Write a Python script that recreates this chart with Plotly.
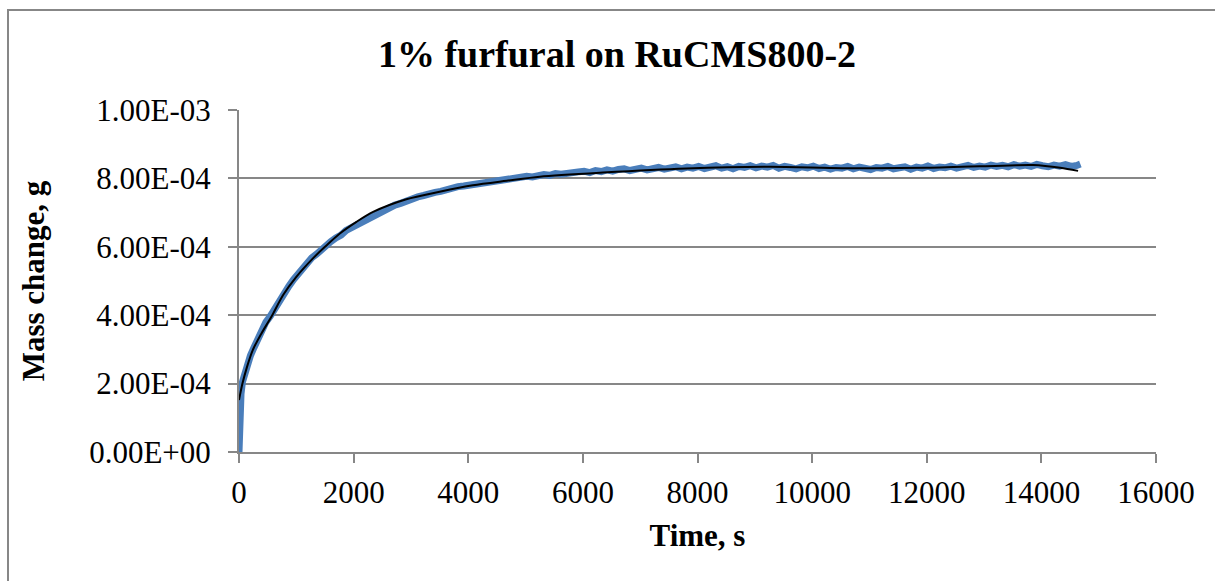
import plotly.graph_objects as go

# Measured mass uptake (time in s, mass change in units of 1e-4 g)
time_s = [0, 5, 10, 20, 35, 60, 100, 150, 200, 260, 330, 400, 470, 550, 630, 710, 790,
          870, 950, 1030, 1110, 1190, 1270, 1350, 1430, 1510, 1600, 1690, 1780, 1870,
          1960, 2050, 2140, 2230, 2320, 2420, 2520, 2620, 2720, 2820, 2920, 3020, 3120,
          3220, 3320, 3420, 3520, 3620, 3720, 3820, 3920, 4020, 4120, 4220, 4320, 4420,
          4520, 4620, 4720, 4820, 4920, 5020, 5120, 5220, 5320, 5420, 5520, 5620, 5720,
          5820, 5920, 6020, 6120, 6220, 6320, 6420, 6520, 6620, 6720, 6820, 6920, 7020,
          7120, 7220, 7320, 7420, 7520, 7620, 7720, 7820, 7920, 8020, 8120, 8220, 8320,
          8420, 8520, 8620, 8720, 8820, 8920, 9020, 9120, 9220, 9320, 9420, 9520, 9620,
          9720, 9820, 9920, 10020, 10120, 10220, 10320, 10420, 10520, 10620, 10720,
          10820, 10920, 11020, 11120, 11220, 11320, 11420, 11520, 11620, 11720, 11820,
          11920, 12020, 12120, 12220, 12320, 12420, 12520, 12620, 12720, 12820, 12920,
          13020, 13120, 13220, 13320, 13420, 13520, 13620, 13720, 13820, 13920, 14020,
          14120, 14220, 14320, 14420, 14520, 14620, 14680]
mass_e4 = [0.0, 0.55, 0.95, 1.35, 1.7, 2.05, 2.3, 2.57, 2.82, 3.05, 3.32, 3.55, 3.8, 3.98,
           4.22, 4.42, 4.68, 4.85, 5.04, 5.2, 5.4, 5.5, 5.68, 5.78, 5.92, 6.0, 6.15, 6.26,
           6.34, 6.48, 6.56, 6.64, 6.76, 6.82, 6.92, 7.0, 7.06, 7.15, 7.22, 7.27, 7.35,
           7.39, 7.46, 7.5, 7.56, 7.59, 7.62, 7.68, 7.7, 7.76, 7.78, 7.81, 7.84, 7.85,
           7.89, 7.92, 7.94, 7.98, 7.98, 8.03, 8.03, 8.06, 8.04, 8.09, 8.11, 8.09, 8.14,
           8.12, 8.16, 8.16, 8.19, 8.21, 8.17, 8.23, 8.2, 8.25, 8.21, 8.26, 8.28, 8.23,
           8.27, 8.3, 8.25, 8.29, 8.32, 8.27, 8.31, 8.34, 8.28, 8.33, 8.3, 8.35, 8.29,
           8.34, 8.37, 8.3, 8.34, 8.28, 8.35, 8.32, 8.37, 8.31, 8.36, 8.33, 8.38, 8.3,
           8.35, 8.32, 8.28, 8.34, 8.31, 8.36, 8.29, 8.33, 8.27, 8.32, 8.3, 8.35, 8.28,
           8.33, 8.29, 8.26, 8.32, 8.3, 8.35, 8.28, 8.31, 8.34, 8.27, 8.33, 8.3, 8.36,
           8.29, 8.33, 8.31, 8.36, 8.3, 8.34, 8.38, 8.32, 8.36, 8.33, 8.39, 8.35, 8.38,
           8.34, 8.4, 8.36, 8.39, 8.35, 8.41, 8.37, 8.34, 8.39, 8.36, 8.4, 8.35, 8.38,
           8.42, 8.36, 8.39, 8.37]

# Fitted curve (same units)
fit_time_s = [0, 60, 140, 240, 390, 580, 770, 1000, 1290, 1500, 1760, 2050, 2340, 2920,
              3500, 4080, 4670, 5250, 6350, 7800, 9260, 10540, 12000, 13450, 13860,
              14330, 14640]
fit_mass_e4 = [1.52, 2.0, 2.49, 2.98, 3.46, 4.0, 4.59, 5.12, 5.66, 6.0, 6.39, 6.73, 7.02,
               7.39, 7.61, 7.8, 7.93, 8.05, 8.17, 8.29, 8.34, 8.3, 8.31, 8.38, 8.39, 8.31,
               8.22]

y_tick_vals = [0, 2e-4, 4e-4, 6e-4, 8e-4, 1e-3]
y_tick_text = ["0.00E+00", "2.00E-04", "4.00E-04", "6.00E-04", "8.00E-04", "1.00E-03"]
x_tick_vals = [0, 2000, 4000, 6000, 8000, 10000, 12000, 14000, 16000]

title_text = "1% furfural on RuCMS800-2"
x_title = "Time, s"
y_title = "Mass change, g"

FONT = "Liberation Serif, Times New Roman, serif"
GRID = "#878787"

W, H = 1215, 581
L, R, T, B = 239, 1156, 110, 452   # plot-area edges in pixels

fig = go.Figure()
fig.add_trace(go.Scatter(
    x=time_s, y=[v * 1e-4 for v in mass_e4], mode="lines",
    line=dict(color="#4A7EBB", width=7), showlegend=False, hoverinfo="skip"))
fig.add_trace(go.Scatter(
    x=fit_time_s, y=[v * 1e-4 for v in fit_mass_e4], mode="lines",
    line=dict(color="#000000", width=2, shape="spline", smoothing=0.8),
    showlegend=False, hoverinfo="skip"))

# outer chart frame
def px_x(px):
    return (px - L) / (R - L)

def px_y(py):
    return (B - py) / (B - T)

fig.add_shape(type="rect", xref="paper", yref="paper",
              x0=px_x(8), x1=px_x(1240), y0=px_y(10), y1=px_y(600),
              line=dict(color=GRID, width=2), fillcolor="rgba(0,0,0,0)", layer="below")

fig.update_layout(
    width=W, height=H,
    margin=dict(l=L, r=W - R, t=T, b=H - B, pad=0),
    paper_bgcolor="white", plot_bgcolor="white",
    font=dict(family=FONT, color="black", size=31),
    title=dict(text=f"<b>{title_text}</b>", x=617 / W, xanchor="center",
               xref="container", yref="container", y=1 - 54 / H, yanchor="middle",
               font=dict(family=FONT, size=38, color="black")),
)
fig.update_xaxes(
    range=[0, 16000], tickvals=x_tick_vals, ticktext=[str(v) for v in x_tick_vals],
    showgrid=False, zeroline=False, showline=True, linecolor=GRID, linewidth=2,
    ticks="outside", ticklen=9, tickcolor=GRID, tickwidth=2, ticklabelstandoff=3,
    tickfont=dict(family=FONT, size=31, color="black"),
    title=dict(text=f"<b>{x_title}</b>", standoff=15,
               font=dict(family=FONT, size=31, color="black")),
)
fig.update_yaxes(
    range=[0, 1e-3], tickvals=y_tick_vals, ticktext=y_tick_text,
    showgrid=True, gridcolor=GRID, gridwidth=2, zeroline=False,
    showline=True, linecolor=GRID, linewidth=2,
    ticks="outside", ticklen=9, tickcolor=GRID, tickwidth=2, ticklabelstandoff=11,
    tickfont=dict(family=FONT, size=31, color="black"),
    title=dict(text=f"<b>{y_title}</b>", standoff=35,
               font=dict(family=FONT, size=31, color="black")),
)

fig.write_html("out.html")
